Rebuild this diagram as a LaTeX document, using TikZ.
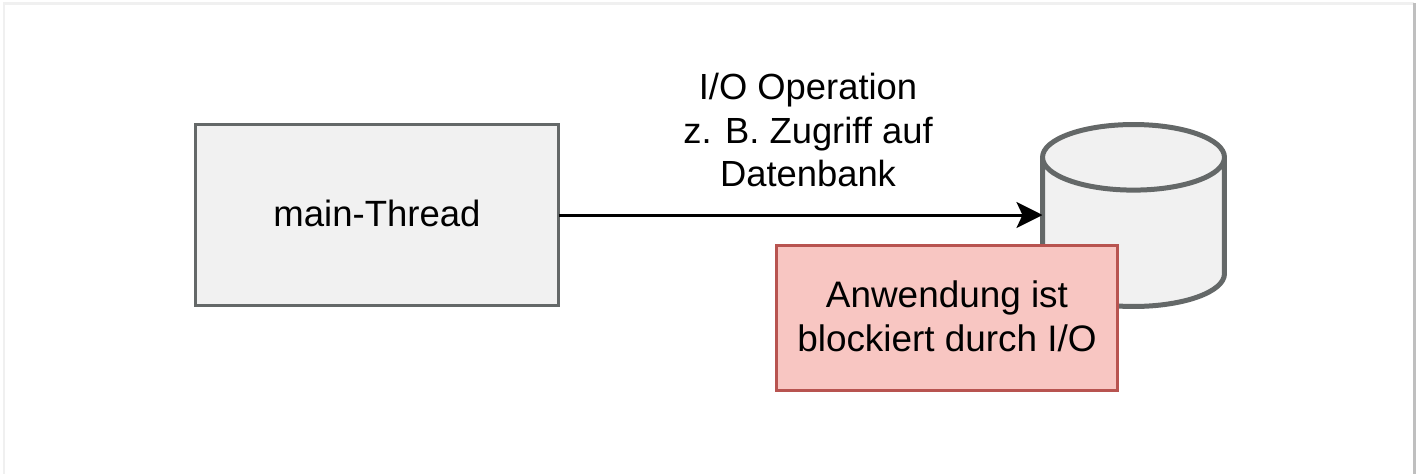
\documentclass[tikz,border=0pt]{standalone}
\usepackage{fontspec}
\setmainfont{Liberation Sans}
\usetikzlibrary{arrows.meta,shapes.geometric}
\definecolor{boxfill}{HTML}{F1F1F1}
\definecolor{boxline}{HTML}{646868}
\definecolor{blockfill}{HTML}{F8C6C2}
\definecolor{blockline}{HTML}{B85450}
\tikzset{
  frameline/.style={line width=0.06cm},
  thread/.style={draw=boxline,fill=boxfill,line width=0.06cm,outer sep=0pt,text depth=0.08cm,
    minimum width=7.28cm,minimum height=3.64cm,font=\fontsize{20.8}{24.5}\selectfont},
  database/.style={shape=cylinder,shape border rotate=90,aspect=5.6,draw=boxline,fill=boxfill,
    line width=0.1cm,outer sep=0pt,minimum width=3.64cm,minimum height=3.64cm,anchor=shape center},
  blocked/.style={draw=blockline,fill=blockfill,line width=0.06cm,outer sep=0pt,align=center,
    minimum width=6.84cm,minimum height=2.9cm,font=\fontsize{21}{25}\selectfont},
  iotext/.style={align=center,inner sep=0pt,font=\fontsize{20.7}{24.7}\selectfont}
}
\begin{document}
\begin{tikzpicture}[x=0.02cm,y=-0.02cm]
  \useasboundingbox (0,0) rectangle (1421,474);

  % Coordinates
  \coordinate (threadPos) at (377,215);
  \coordinate (dbPos) at (1133.5,215.5);
  \coordinate (blockPos) at (947,318);
  \coordinate (labelPos) at (808,130);
  \coordinate (frameBL) at (4,474);
  \coordinate (frameTL) at (4,3);
  \coordinate (frameTR) at (1414,3);
  \coordinate (frameBR) at (1414,474);

  % Frame
  \draw[frameline,draw=black!6] (frameBL) -- (frameTL) -- (frameTR);
  \draw[frameline,draw=black!25] (frameTR) -- (frameBR);

  % Nodes
  \node[thread] (main) at (threadPos) {main-Thread};
  \node[database] (db) at (dbPos) {};

  % Lines
  \draw[-{Stealth[length=0.52cm,width=0.52cm,inset=0.12cm]},line width=0.06cm]
    (main.east) -- (main.east -| db.west);

  \node[blocked,text depth=0.08cm] (block) at (blockPos) {Anwendung ist\\blockiert durch I/O};
  \node[iotext] (label) at (labelPos) {I/O Operation\\z. B. Zugriff auf\\Datenbank};
\end{tikzpicture}
\end{document}
